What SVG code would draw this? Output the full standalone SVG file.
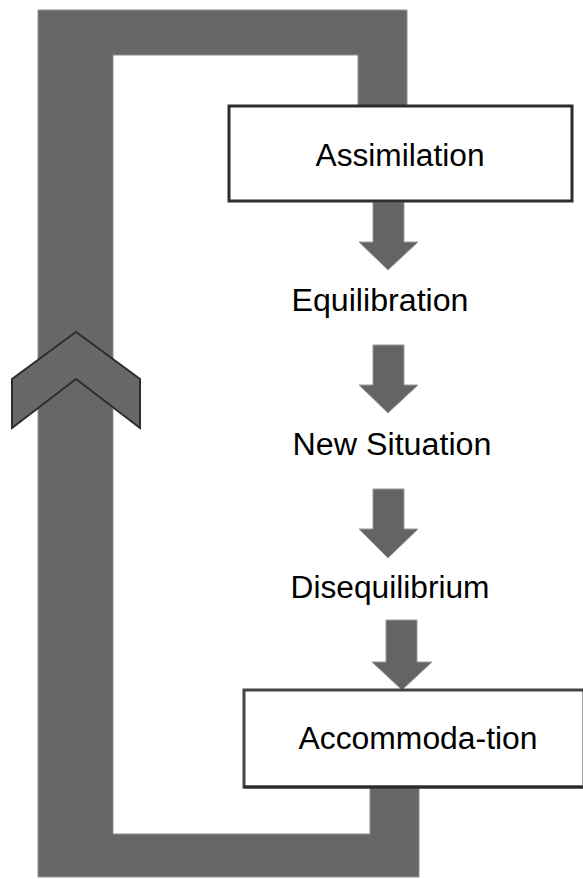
<svg xmlns="http://www.w3.org/2000/svg" width="583" height="879" viewBox="0 0 583 879">
  <style>
    .band { fill: #676767; stroke: #8e8e8e; stroke-width: 1; }
    .chev { fill: #686868; stroke: #2e2e2e; stroke-width: 2; stroke-linejoin: miter; }
    .arrow { fill: #646464; stroke: #9a9a9a; stroke-width: 1; }
    .box { fill: #ffffff; stroke: #2d2d2d; stroke-width: 3; }
    .label { font-family: "Liberation Sans", Arial, sans-serif; font-size: 31px; fill: #000000; text-anchor: middle; }
  </style>
  <rect width="583" height="879" fill="#ffffff"/>

  <!-- feedback loop band -->
  <g id="connectors">
    <polygon class="band" points="38,10 407,10 407,110 358,110 358,55 113,55 113,834 370,834 370,785 419,785 419,877 38,877"/>
    <polygon class="chev" points="12,379 76,332 140,379 140,428 76,379 12,428"/>
    <!-- down arrows between stages -->
    <polygon class="arrow" points="373,202 404,202 404,242 418,242 388,270 359,242 373,242"/>
    <polygon class="arrow" points="373,345 404,345 404,385 418,385 388,413 359,385 373,385"/>
    <polygon class="arrow" points="373,489 404,489 404,529 418,529 388,558 359,529 373,529"/>
    <polygon class="arrow" points="386,620 417,620 417,662 432,662 402,690 372,662 386,662"/>
  </g>

  <g id="assimilation">
    <rect class="box" x="229" y="106" width="343" height="95"/>
    <text class="label" x="400" y="166" textLength="169" lengthAdjust="spacingAndGlyphs">Assimilation</text>
  </g>
  <g id="equilibration">
    <text class="label" x="380" y="311" textLength="177" lengthAdjust="spacingAndGlyphs">Equilibration</text>
  </g>
  <g id="new-situation">
    <text class="label" x="392" y="455" textLength="199" lengthAdjust="spacingAndGlyphs">New Situation</text>
  </g>
  <g id="disequilibrium">
    <text class="label" x="390" y="598" textLength="199" lengthAdjust="spacingAndGlyphs">Disequilibrium</text>
  </g>
  <g id="accommodation">
    <rect class="box" x="244" y="690" width="340" height="97" style="stroke:#444"/>
    <line x1="244" y1="787" x2="584" y2="787" stroke="#2a2a2a" stroke-width="3"/>
    <text class="label" x="418" y="749" textLength="239" lengthAdjust="spacingAndGlyphs">Accommoda-tion</text>
  </g>
</svg>
